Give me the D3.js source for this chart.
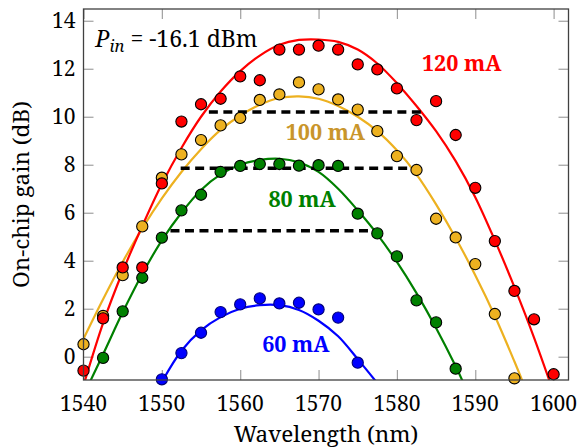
<!DOCTYPE html>
<html>
<head>
<meta charset="utf-8">
<script src="https://cdn.jsdelivr.net/npm/d3@7/dist/d3.min.js"></script>
<style>
body { margin: 0; background: #fff; }
</style>
</head>
<body>
<div id="chart"></div>
<script>
// measured points (wavelength nm, gain dB)
var wl120 = [1540, 1542.5, 1545, 1547.5, 1550, 1552.5, 1555, 1557.5, 1560, 1562.5, 1565, 1567.5, 1570,
             1572.5, 1575, 1577.5, 1580, 1582.5, 1585, 1587.5, 1590, 1592.5, 1595, 1597.5, 1600];
var gain120 = [-0.58, 1.6, 3.72, 3.72, 7.22, 9.8, 10.52, 10.75, 11.68, 11.52, 12.8, 12.8, 12.96,
               12.8, 12.18, 11.97, 11.18, 9.86, 10.65, 9.24, 7.04, 4.82, 2.74, 1.56, -0.73];
var wl100 = [1540, 1542.5, 1545, 1547.5, 1550, 1552.5, 1555, 1557.5, 1560, 1562.5, 1565, 1567.5, 1570,
             1572.5, 1575, 1577.5, 1580, 1582.5, 1585, 1587.5, 1590, 1592.5, 1595];
var gain100 = [0.52, 1.7, 3.4, 5.43, 7.46, 8.43, 9.03, 9.64, 9.95, 10.7, 10.93, 11.43, 11.14,
               10.72, 10.3, 9.4, 8.36, 7.78, 5.75, 4.97, 3.86, 1.78, -0.9];
var wl80 = [1542.5, 1545, 1547.5, 1550, 1552.5, 1555, 1557.5, 1560, 1562.5, 1565, 1567.5, 1570,
            1572.5, 1575, 1577.5, 1580, 1582.5, 1585, 1587.5];
var gain80 = [-0.05, 1.89, 3.29, 4.96, 6.1, 6.75, 7.7, 7.95, 8.03, 8.03, 7.96, 7.98,
              7.95, 5.96, 5.14, 4.18, 2.35, 1.43, -0.5];
var wl60 = [1550, 1552.5, 1555, 1557.5, 1560, 1562.5, 1565, 1567.5, 1570, 1572.5, 1575];
var gain60 = [-0.94, 0.15, 1.0, 1.86, 2.18, 2.43, 2.22, 2.25, 1.97, 1.63, -0.25];

// fitted curves
var fitWl120 = [1540, 1542.5, 1545, 1547.5, 1550, 1552.5, 1555, 1557.5, 1560, 1562.5, 1565, 1567.5, 1570,
                1572.5, 1575, 1577.5, 1580, 1582.5, 1585, 1587.5, 1590, 1592.5, 1595, 1597.5, 1600];
var fit120 = [-1.2, 1.4, 3.55, 5.45, 7.2, 8.7, 10.0, 11.05, 11.9, 12.55, 13.0, 13.2, 13.22,
              13.12, 12.8, 12.22, 11.4, 10.45, 9.4, 8.15, 6.65, 4.85, 2.9, 0.8, -1.5];
var fitWl100 = [1540, 1542.5, 1545, 1547.5, 1550, 1552.5, 1555, 1557.5, 1560, 1562.5, 1565, 1567.5, 1570,
                1572.5, 1575, 1577.5, 1580, 1582.5, 1585, 1587.5, 1590, 1592.5, 1595, 1596];
var fit100 = [0.75, 2.4, 3.95, 5.35, 6.6, 7.7, 8.65, 9.45, 10.05, 10.5, 10.78, 10.85, 10.75,
              10.45, 10.0, 9.4, 8.6, 7.6, 6.35, 4.95, 3.4, 1.7, -0.2, -1.0];
var fitWl80 = [1540.6, 1542.5, 1545, 1547.5, 1550, 1552.5, 1555, 1557.5, 1560, 1562.5, 1565, 1567.5, 1570,
               1572.5, 1575, 1577.5, 1580, 1582.5, 1585, 1587.5, 1588.5];
var fit80 = [-1.2, 0.1, 1.85, 3.45, 4.85, 6.0, 6.95, 7.6, 8.0, 8.2, 8.25, 8.1, 7.7,
             7.0, 6.1, 5.1, 3.95, 2.65, 1.2, -0.4, -1.1];
var fitWl60 = [1550, 1552.5, 1555, 1557.5, 1560, 1562.5, 1565, 1567.5, 1570, 1572.5, 1575, 1577.5];
var fit60 = [-1.05, 0.25, 1.1, 1.65, 2.0, 2.15, 2.15, 1.95, 1.5, 0.85, -0.1, -1.1];

// 3-dB bandwidth markers
var bandGain = [10.2, 7.85, 5.25];
var bandStart = [1556, 1552.4, 1551.1];
var bandEnd = [1583.4, 1581.9, 1576.6];

var seriesNames = ["60 mA", "80 mA", "100 mA", "120 mA"];
var xTicks = [1540, 1550, 1560, 1570, 1580, 1590, 1600];
var yTicks = [0, 2, 4, 6, 8, 10, 12, 14];

var FONT = "'Noto Serif'";

var gain_chart = {
    width: 577,
    height: 448,
    view: 0,
    initialize: function() {
        var self = this;
        self.view = d3.select("#chart").append("svg")
            .attr("width", self.width)
            .attr("height", self.height);
        self.draw();
    },

    draw: function() {
        var self = this;
        var left = 83.5, right = 568.5, top = 9, bottom = 380;
        var x = d3.scaleLinear().domain([1540, 1601.9]).range([left, right]);
        var y = d3.scaleLinear().domain([-0.97, 14.49]).range([bottom, top]);

        var lineColor = ["#0000ff", "#008000", "#edb120", "#ff0000"];
        var textColor = ["#0000ff", "#008000", "#c9952b", "#ff0000"];
        var series = [
            {wl: wl60, g: gain60, fwl: fitWl60, fg: fit60},
            {wl: wl80, g: gain80, fwl: fitWl80, fg: fit80},
            {wl: wl100, g: gain100, fwl: fitWl100, fg: fit100},
            {wl: wl120, g: gain120, fwl: fitWl120, fg: fit120}
        ];

        self.view.append("clipPath").attr("id", "plotclip")
            .append("rect")
            .attr("x", left).attr("y", top)
            .attr("width", right - left).attr("height", bottom - top);

        // ticks, all four sides, pointing inward
        var tickLen = 10;
        var axes = self.view.append("g");
        axes.append("g").attr("transform", "translate(0," + bottom + ")")
            .call(d3.axisBottom(x).tickValues(xTicks).tickSize(-tickLen).tickFormat(""));
        axes.append("g").attr("transform", "translate(0," + top + ")")
            .call(d3.axisTop(x).tickValues(xTicks).tickSize(-tickLen).tickFormat(""));
        axes.append("g").attr("transform", "translate(" + left + ",0)")
            .call(d3.axisLeft(y).tickValues(yTicks).tickSize(-tickLen).tickFormat(""));
        axes.append("g").attr("transform", "translate(" + right + ",0)")
            .call(d3.axisRight(y).tickValues(yTicks).tickSize(-tickLen).tickFormat(""));
        axes.selectAll(".domain").remove();
        axes.selectAll(".tick line").attr("stroke", "#a0a0a0").attr("stroke-width", 1.2);

        var plot = self.view.append("g").attr("clip-path", "url(#plotclip)");

        // fit curves
        var line = d3.line()
            .x(function(d) { return x(d[0]); })
            .y(function(d) { return y(d[1]); })
            .curve(d3.curveCatmullRom.alpha(0.5));
        series.forEach(function(s, i) {
            plot.append("path")
                .datum(d3.zip(s.fwl, s.fg))
                .attr("d", line)
                .attr("fill", "none")
                .attr("stroke", lineColor[i])
                .attr("stroke-width", 2.2);
        });

        // 3 dB bandwidth lines
        plot.append("g").selectAll("line")
            .data(d3.zip(bandGain, bandStart, bandEnd))
            .enter().append("line")
            .attr("x1", function(d) { return x(d[1]); })
            .attr("x2", function(d) { return x(d[2]); })
            .attr("y1", function(d) { return y(d[0]); })
            .attr("y2", function(d) { return y(d[0]); })
            .attr("stroke", "#000")
            .attr("stroke-width", 3.5)
            .attr("stroke-dasharray", "9,5.5");

        // measured points
        series.forEach(function(s, i) {
            self.view.append("g").selectAll("circle")
                .data(d3.zip(s.wl, s.g))
                .enter().append("circle")
                .attr("cx", function(d) { return x(d[0]); })
                .attr("cy", function(d) { return y(d[1]); })
                .attr("r", 5.6)
                .attr("fill", lineColor[i])
                .attr("stroke", i == 0 ? "#00007a" : "#000")
                .attr("stroke-width", 1.1);
        });

        // frame
        self.view.append("rect")
            .attr("x", left).attr("y", top)
            .attr("width", right - left).attr("height", bottom - top)
            .attr("fill", "none")
            .attr("stroke", "#404040")
            .attr("stroke-width", 1.3);

        // tick labels
        self.view.append("g").selectAll("text")
            .data(xTicks).enter().append("text")
            .attr("x", function(d) { return x(d); })
            .attr("y", 411)
            .attr("text-anchor", "middle")
            .style("font-family", FONT)
            .attr("font-size", 21)
            .text(function(d) { return d; });
        self.view.append("g").selectAll("text")
            .data(yTicks).enter().append("text")
            .attr("x", left - 8)
            .attr("y", function(d) { return y(d) + 7.5; })
            .attr("text-anchor", "end")
            .style("font-family", FONT)
            .attr("font-size", 21)
            .text(function(d) { return d; });

        // axis titles
        self.view.append("text")
            .attr("x", (left + right) / 2)
            .attr("y", 442)
            .attr("text-anchor", "middle")
            .style("font-family", FONT)
            .attr("font-size", 22.5)
            .text("Wavelength (nm)");
        self.view.append("text")
            .attr("transform", "translate(29," + ((top + bottom) / 2) + ") rotate(-90)")
            .attr("text-anchor", "middle")
            .style("font-family", FONT)
            .attr("font-size", 22.5)
            .text("On-chip gain (dB)");

        // series labels
        var labelWl = [1562.8, 1563.6, 1565.8, 1583.2];
        var labelGain = [0.2, 6.24, 9.03, 11.9];
        self.view.append("g").selectAll("text")
            .data(seriesNames).enter().append("text")
            .attr("x", function(d, i) { return x(labelWl[i]); })
            .attr("y", function(d, i) { return y(labelGain[i]); })
            .style("font-family", FONT)
            .attr("font-size", 21.5)
            .attr("font-weight", "bold")
            .attr("fill", function(d, i) { return textColor[i]; })
            .text(function(d) { return d; });

        // input power note
        var note = self.view.append("text")
            .attr("x", x(1541.5))
            .attr("y", y(12.9))
            .style("font-family", FONT)
            .attr("font-size", 23);
        note.append("tspan").attr("font-style", "italic").text("P");
        note.append("tspan").attr("font-style", "italic").attr("font-size", 16.5)
            .attr("dy", 5).text("in");
        note.append("tspan").attr("dy", -5).text(" = -16.1 dBm");
    }
};

gain_chart.initialize();
</script>
</body>
</html>
